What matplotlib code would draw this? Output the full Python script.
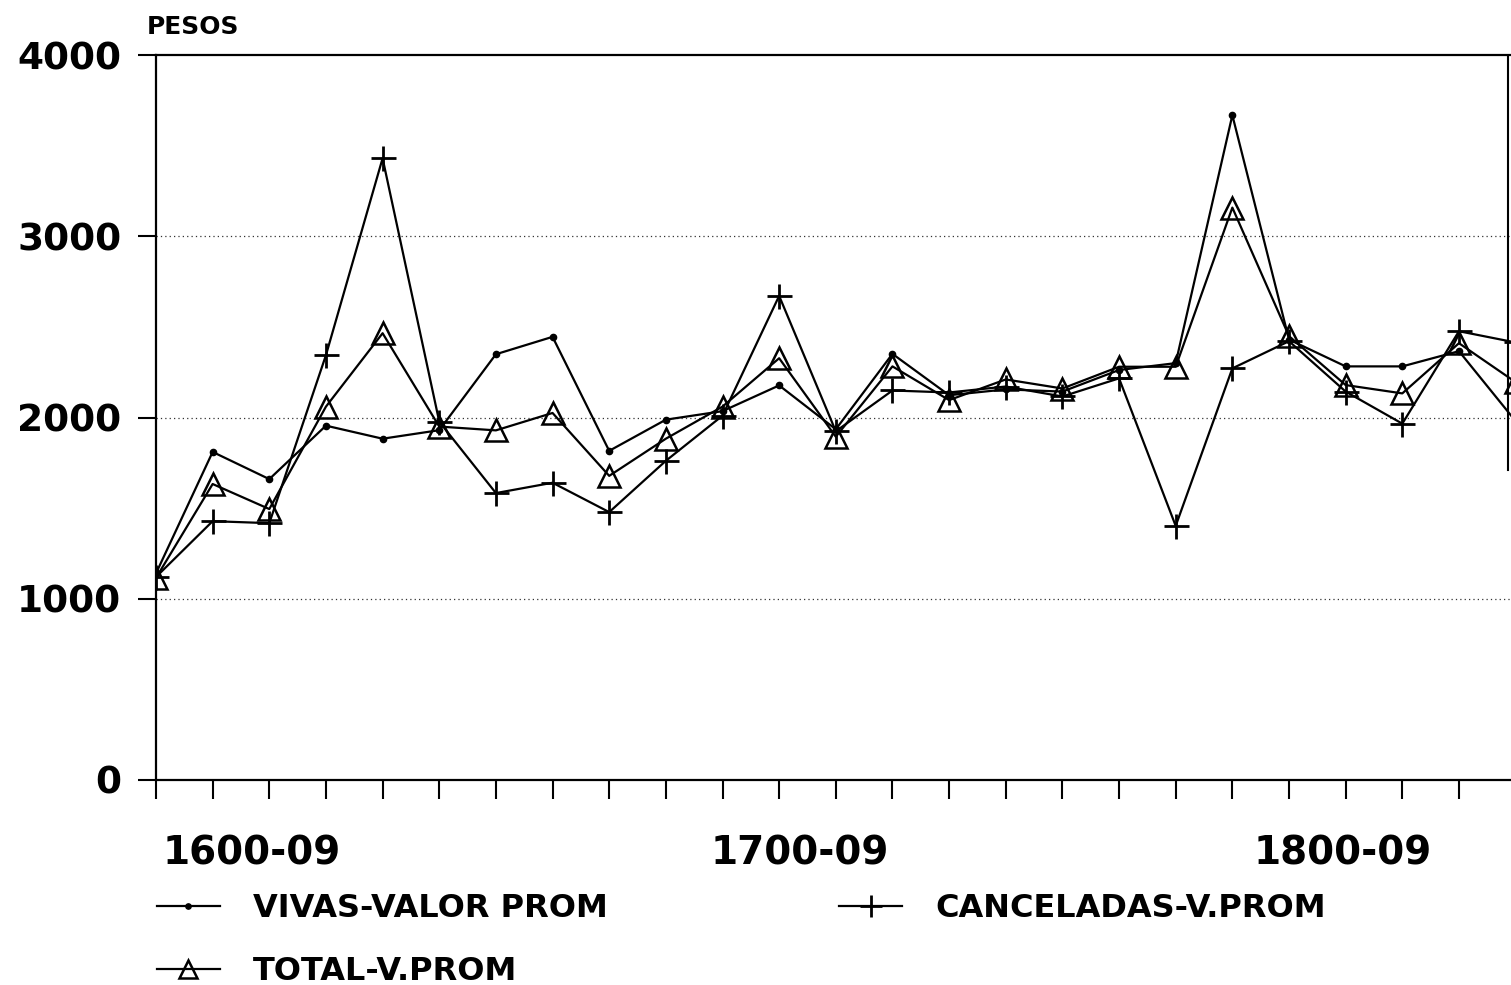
import matplotlib
matplotlib.use("Agg")
import matplotlib.pyplot as plt
import numpy as np

# ---- data ----
periods = np.arange(25)
vivas = [1140, 1810, 1660, 1955, 1883, 1930, 2349, 2445, 1816, 1988, 2035, 2177, 1935,
         2351, 2123, 2155, 2143, 2262, 2300, 3668, 2430, 2282, 2282, 2366, 1980]
canceladas = [1120, 1428, 1417, 2344, 3430, 1977, 1583, 1640, 1478, 1761, 2010, 2671, 1924,
              2149, 2138, 2171, 2116, 2216, 1402, 2271, 2421, 2143, 1966, 2476, 2414]
total = [1115, 1633, 1495, 2060, 2465, 1950, 1929, 2025, 1678, 1883, 2060, 2327, 1894,
         2282, 2096, 2210, 2160, 2280, 2280, 3158, 2449, 2179, 2133, 2410, 2195]
xlabel_text = ["1600-09", "1700-09", "1800-09"]
xlabel_pos = [1.69, 11.37, 20.95]
yticks = [0, 1000, 2000, 3000, 4000]
series_names = ["VIVAS-VALOR PROM", "TOTAL-V.PROM", "CANCELADAS-V.PROM"]

plt.rcParams['font.family'] = ['DejaVu Sans']
W, H = 1511, 985
fig = plt.figure(figsize=(W / 100, H / 100), dpi=100)

x0_px, step_px = 156, 56.65
xmax = 24.6
ax = fig.add_axes([x0_px / W, (H - 780) / H, xmax * step_px / W, (780 - 55) / H])

l1, = ax.plot(periods, vivas, color='black', lw=1.6, marker='o', ms=4.5,
              mfc='black', mec='black', label=series_names[0])
l3, = ax.plot(periods, total, color='black', lw=1.6, marker='^', ms=16,
              mfc='none', mec='black', mew=1.8, label=series_names[1])
l2, = ax.plot(periods, canceladas, color='black', lw=1.6, marker='+', ms=18,
              mec='black', mew=2.0, label=series_names[2])

ax.set_xlim(0, xmax)
ax.set_ylim(0, 4000)
ax.set_yticks(yticks)
ax.set_yticklabels([str(v) for v in yticks], fontsize=27, fontweight='bold')
ax.set_xticks(np.arange(24))
ax.set_xticklabels([])
ax.tick_params(axis='y', direction='out', length=13, width=1.5, pad=12)
ax.tick_params(axis='x', direction='out', length=14, width=1.5)

for v in yticks[1:-1]:
    ax.axhline(v, color='#333333', lw=0.9, ls=(0, (1, 2.5)), zorder=0)

for s in ['left', 'bottom', 'top']:
    ax.spines[s].set_linewidth(1.6)
ax.spines['right'].set_visible(False)
# scan edge line on right
ax.axvline((1508 - x0_px) / step_px, ymin=(780 - 470) / 725, ymax=1, color='black', lw=1.5)

tr = ax.get_xaxis_transform()
for t, p in zip(xlabel_text, xlabel_pos):
    ax.text(p, -0.101, t, transform=tr, ha='center', va='center',
            fontsize=28, fontweight='bold')

fig.text(147 / W, 1 - 27 / H, "PESOS", ha='left', va='center', fontsize=18, fontweight='bold')

leg = fig.legend(handles=[l1, l3, l2], labels=series_names, ncol=2,
                 loc='upper left', bbox_to_anchor=(157 / W, 1 - 893 / H),
                 frameon=False, handlelength=1.97, handletextpad=1.03,
                 columnspacing=7.25, labelspacing=1.0, borderpad=0, borderaxespad=0,
                 markerscale=0.85, prop={'weight': 'bold', 'size': 23})

fig.savefig("out.png", dpi=100)
